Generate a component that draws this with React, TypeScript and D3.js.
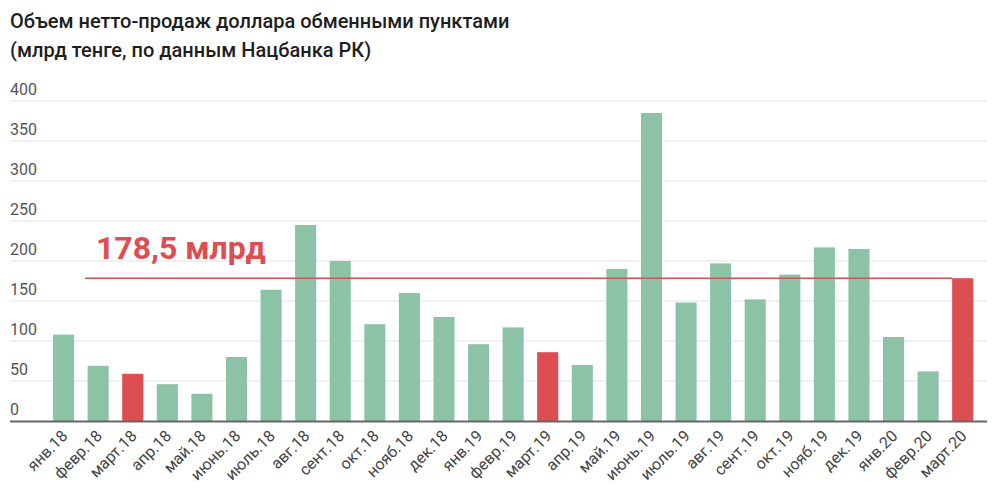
import React from "react";
import * as d3 from "d3";

const titleLines = [
  "Объем нетто-продаж доллара обменными пунктами",
  "(млрд тенге, по данным Нацбанка РК)",
];

const categories = [
  "янв.18", "февр.18", "март.18", "апр.18", "май.18", "июнь.18", "июль.18",
  "авг.18", "сент.18", "окт.18", "нояб.18", "дек.18",
  "янв.19", "февр.19", "март.19", "апр.19", "май.19", "июнь.19", "июль.19",
  "авг.19", "сент.19", "окт.19", "нояб.19", "дек.19",
  "янв.20", "февр.20", "март.20",
];

const values = [
  108, 69, 59, 46, 34, 80, 164, 245, 200, 121, 160, 130,
  96, 117, 86, 70, 190, 385, 148, 197, 152, 183, 217, 215,
  105, 62, 178.5,
];

const highlighted = ["март.18", "март.19", "март.20"];

const yTicks = [0, 50, 100, 150, 200, 250, 300, 350, 400];

const refValue = 178.5;
const refLabel = "178,5 млрд";

const GREEN = "#8cc3a7";
const RED = "#dc4e52";

export default function App() {
  const W = 1000;
  const H = 488;
  const x = d3
    .scaleBand<string>()
    .domain(categories)
    .range([46.3, 980])
    .paddingInner(0.39)
    .paddingOuter(0.195);
  const y = d3.scaleLinear().domain([0, 400]).range([421, 101]);
  const gridX0 = 10;
  const gridX1 = 987;
  const font = "Roboto, 'Noto Sans', sans-serif";
  const lastX = x(categories[categories.length - 1]) ?? 0;

  return (
    <svg
      width={W}
      height={H}
      style={{ position: "absolute", left: 0, top: 0, background: "#fff" }}
      fontFamily={font}
    >
      <rect width={W} height={H} fill="#fff" />
      {titleLines.map((t, i) => (
        <text
          key={i}
          x={10}
          y={28 + i * 29}
          fontSize={20}
          fontWeight={500}
          fill="#1e1e1e"
        >
          {t}
        </text>
      ))}
      {yTicks.map((t) => (
        <g key={t}>
          {t !== 0 && (
            <line
              x1={gridX0}
              x2={gridX1}
              y1={y(t)}
              y2={y(t)}
              stroke="#e3e3e3"
              strokeWidth={1}
            />
          )}
          <text x={10} y={y(t) - 6} fontSize={16} fill="#555">
            {t}
          </text>
        </g>
      ))}
      {categories.map((c, i) => (
        <rect
          key={c}
          x={x(c)}
          y={y(values[i])}
          width={x.bandwidth()}
          height={y(0) - y(values[i])}
          fill={highlighted.includes(c) ? RED : GREEN}
        />
      ))}
      <line
        x1={85}
        x2={lastX}
        y1={y(refValue)}
        y2={y(refValue)}
        stroke={RED}
        strokeWidth={1.5}
      />
      <text x={96} y={259} fontSize={32} fontWeight={700} fill={RED}>
        {refLabel}
      </text>
      <line
        x1={gridX0}
        x2={gridX1}
        y1={y(0) + 0.5}
        y2={y(0) + 0.5}
        stroke="#666"
        strokeWidth={2}
      />
      {categories.map((c) => {
        const cx = (x(c) ?? 0) + x.bandwidth() / 2 + 5;
        return (
          <text
            key={c}
            transform={`translate(${cx},437) rotate(-45)`}
            textAnchor="end"
            fontSize={16}
            fill="#444"
          >
            {c}
          </text>
        );
      })}
    </svg>
  );
}
